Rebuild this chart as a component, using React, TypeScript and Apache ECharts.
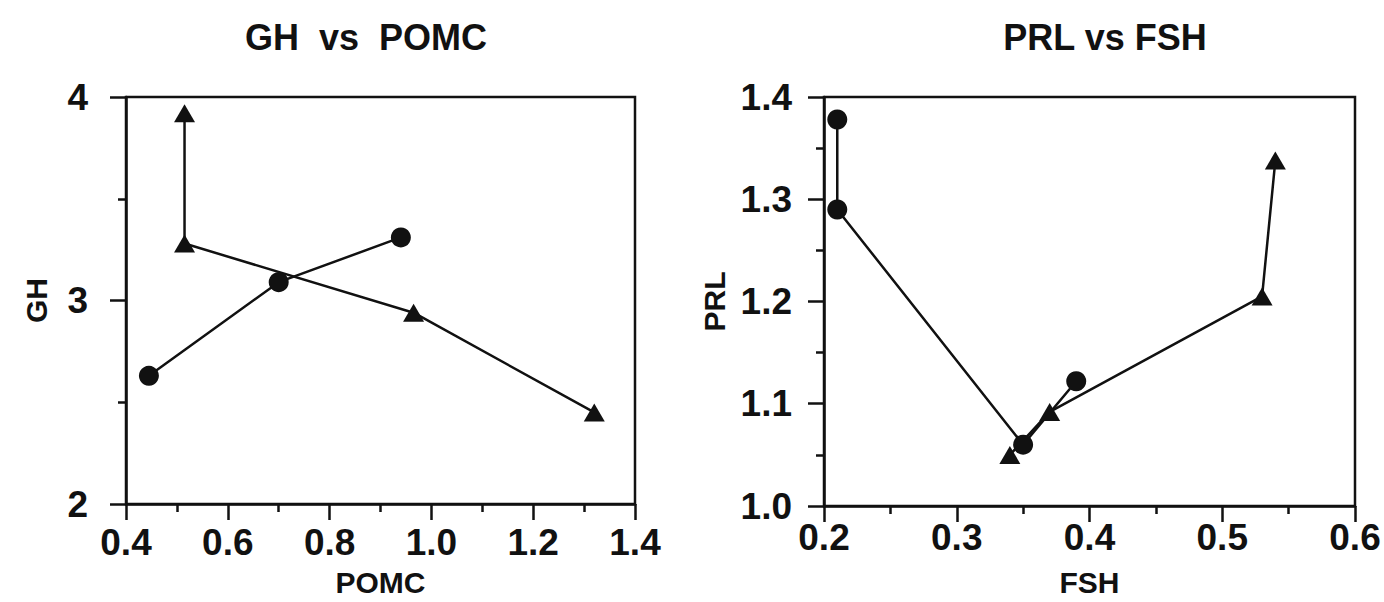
import React, { useEffect, useRef } from "react";
import * as echarts from "echarts";

// Left panel: GH vs POMC
const ghPomcCircleX = [0.445, 0.70, 0.94];
const ghPomcCircleY = [2.63, 3.09, 3.31];
const ghPomcTriangleX = [0.515, 0.515, 0.965, 1.32];
const ghPomcTriangleY = [3.92, 3.28, 2.94, 2.45];

// Right panel: PRL vs FSH
const prlFshCircleX = [0.21, 0.21, 0.35, 0.39];
const prlFshCircleY = [1.378, 1.29, 1.06, 1.122];
const prlFshTriangleX = [0.34, 0.37, 0.53, 0.54];
const prlFshTriangleY = [1.05, 1.092, 1.205, 1.338];

const titles = ["GH  vs  POMC", "PRL vs FSH"];
const xNames = ["POMC", "FSH"];
const yNames = ["GH", "PRL"];

const FONT = '"Liberation Sans", Arial, Helvetica, sans-serif';
const INK = "#111";

const zip = (xs: number[], ys: number[]) => xs.map((x, i) => [x, ys[i]]);

function axisBase(opts: any) {
  return {
    type: "value",
    min: opts.min,
    max: opts.max,
    interval: opts.interval,
    gridIndex: opts.gridIndex,
    name: opts.name,
    nameLocation: "middle",
    nameGap: opts.nameGap,
    nameTextStyle: {
      fontFamily: FONT,
      fontWeight: "bold",
      fontSize: 30,
      color: INK,
    },
    axisLine: { show: true, onZero: false, lineStyle: { color: INK, width: 2.5 } },
    axisTick: { show: true, inside: false, length: 16, lineStyle: { color: INK, width: 2.5 } },
    minorTick: { show: true, splitNumber: 2, length: 8, lineStyle: { color: INK, width: 2.5 } },
    splitLine: { show: false },
    axisLabel: {
      margin: opts.labelMargin,
      fontFamily: FONT,
      fontWeight: "bold",
      fontSize: 37,
      color: INK,
      formatter: opts.formatter,
      showMinLabel: true,
      showMaxLabel: true,
    },
  };
}

export default function App() {
  const ref = useRef<HTMLDivElement>(null);

  useEffect(() => {
    if (!ref.current) return;
    const chart = echarts.init(ref.current, null, { renderer: "svg" });

    const lineStyle = { color: INK, width: 2.5 };
    const itemStyle = { color: INK };

    chart.setOption({
      animation: false,
      backgroundColor: "#fff",
      title: [
        {
          text: titles[0],
          left: 361,
          top: 14,
          textAlign: "center",
          textStyle: { fontFamily: FONT, fontWeight: "bold", fontSize: 36, color: INK },
        },
        {
          text: titles[1],
          left: 1100,
          top: 14,
          textAlign: "center",
          textStyle: { fontFamily: FONT, fontWeight: "bold", fontSize: 36, color: INK },
        },
      ],
      grid: [
        {
          left: 126,
          top: 97,
          width: 509,
          height: 413,
          show: true,
          borderColor: INK,
          borderWidth: 2.5,
          backgroundColor: "transparent",
        },
        {
          left: 824,
          top: 97,
          width: 531,
          height: 411,
          show: true,
          borderColor: INK,
          borderWidth: 2.5,
          backgroundColor: "transparent",
        },
      ],
      xAxis: [
        axisBase({
          gridIndex: 0,
          min: 0.4,
          max: 1.4,
          interval: 0.2,
          name: xNames[0],
          nameGap: 63,
          labelMargin: 20,
          formatter: (v: number) => v.toFixed(1),
        }),
        axisBase({
          gridIndex: 1,
          min: 0.2,
          max: 0.6,
          interval: 0.1,
          name: xNames[1],
          nameGap: 61,
          labelMargin: 13,
          formatter: (v: number) => v.toFixed(1),
        }),
      ],
      yAxis: [
        axisBase({
          gridIndex: 0,
          min: 2,
          max: 4,
          interval: 1,
          name: yNames[0],
          nameGap: 75,
          labelMargin: 38,
          formatter: (v: number) => String(v),
        }),
        axisBase({
          gridIndex: 1,
          min: 1.0,
          max: 1.4,
          interval: 0.1,
          name: yNames[1],
          nameGap: 95,
          labelMargin: 32,
          formatter: (v: number) => v.toFixed(1),
        }),
      ],
      series: [
        {
          type: "line",
          xAxisIndex: 0,
          yAxisIndex: 0,
          data: zip(ghPomcCircleX, ghPomcCircleY),
          symbol: "circle",
          symbolSize: 20,
          showAllSymbol: true,
          lineStyle,
          itemStyle,
        },
        {
          type: "line",
          xAxisIndex: 0,
          yAxisIndex: 0,
          data: zip(ghPomcTriangleX, ghPomcTriangleY),
          symbol: "triangle",
          symbolSize: [21, 18],
          showAllSymbol: true,
          lineStyle,
          itemStyle,
        },
        {
          type: "line",
          xAxisIndex: 1,
          yAxisIndex: 1,
          data: zip(prlFshCircleX, prlFshCircleY),
          symbol: "circle",
          symbolSize: 20,
          showAllSymbol: true,
          lineStyle,
          itemStyle,
        },
        {
          type: "line",
          xAxisIndex: 1,
          yAxisIndex: 1,
          data: zip(prlFshTriangleX, prlFshTriangleY),
          symbol: "triangle",
          symbolSize: [21, 18],
          showAllSymbol: true,
          lineStyle,
          itemStyle,
        },
      ],
    });

    return () => chart.dispose();
  }, []);

  return (
    <div
      ref={ref}
      style={{ position: "fixed", left: 0, top: 0, width: 1384, height: 602, background: "#fff" }}
    />
  );
}
